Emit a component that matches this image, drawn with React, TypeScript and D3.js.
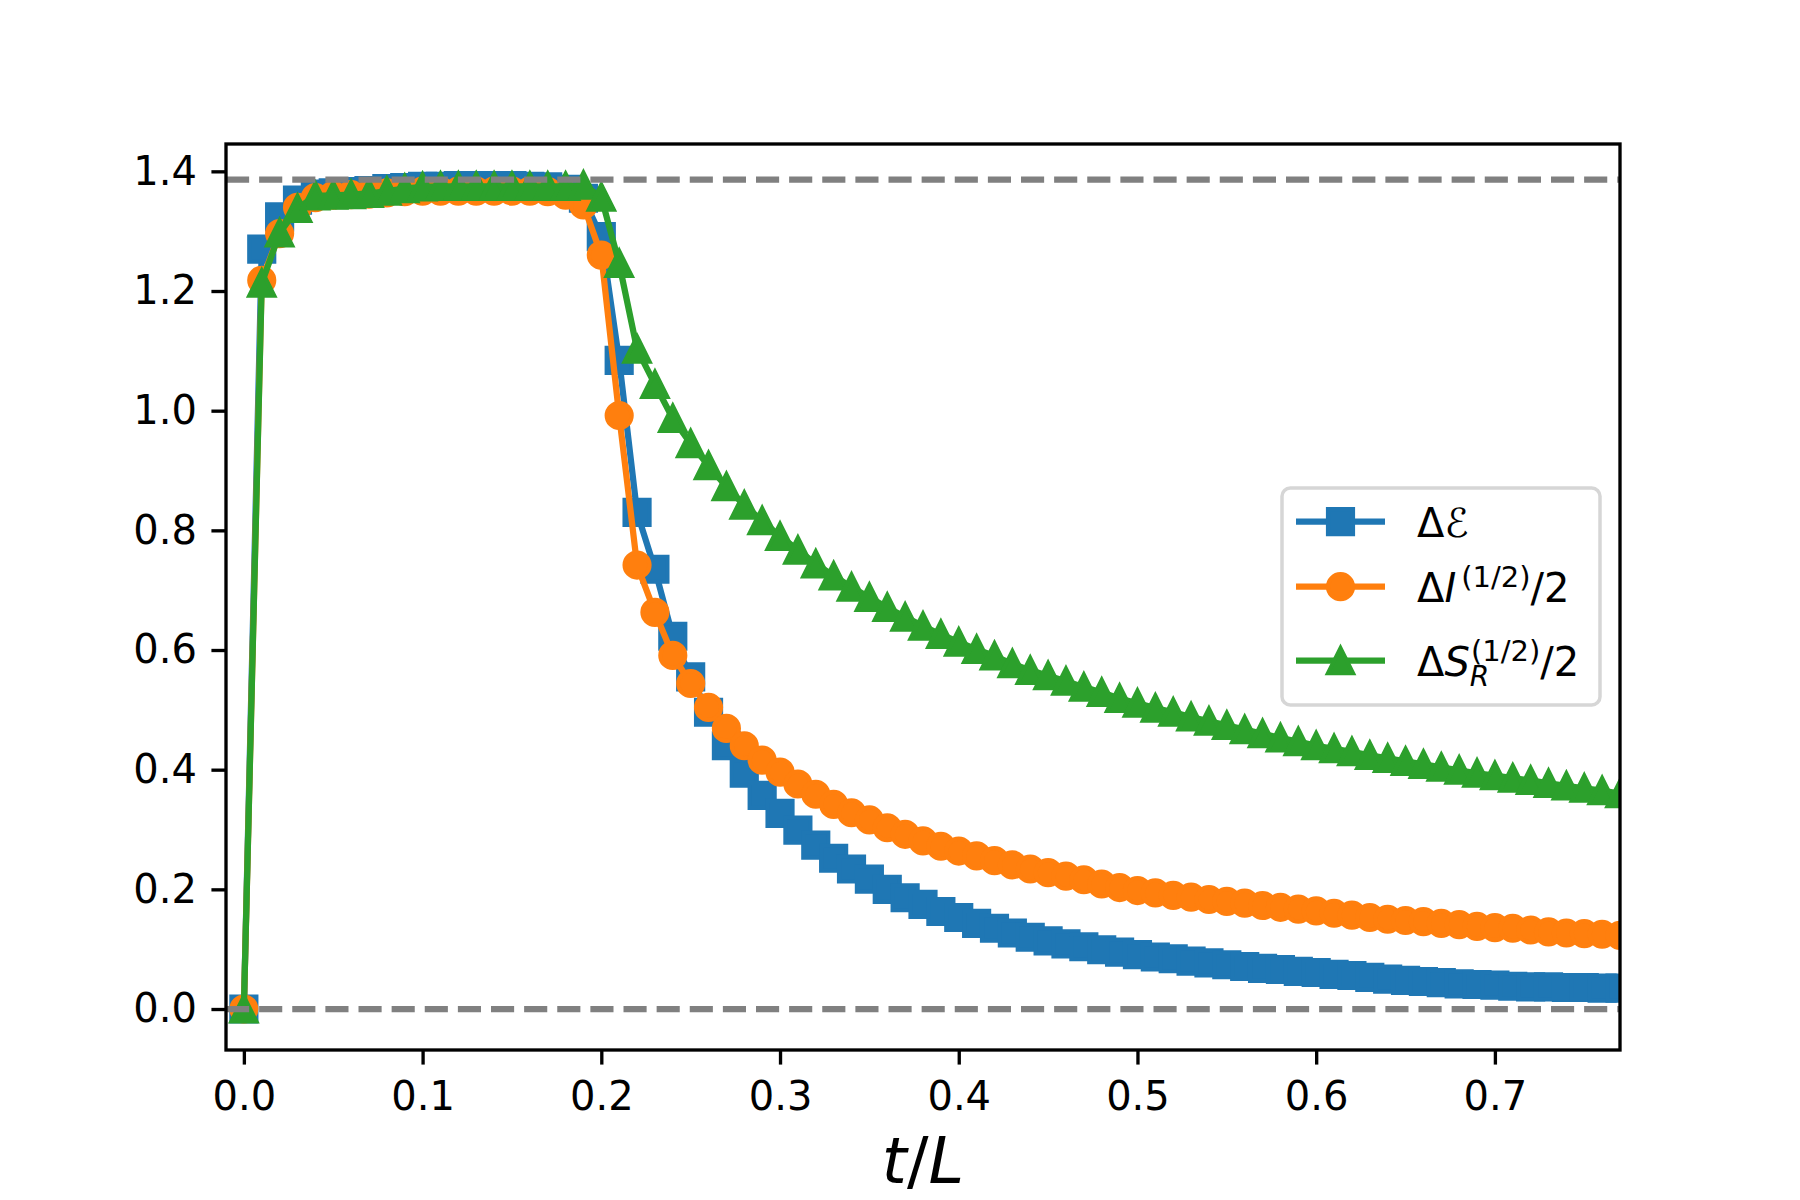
import { useEffect, useRef } from "react"
import * as d3 from "d3"

// sampling step of t/L (one marker per step, starting at t = 0)
const T_STEP = 0.01

// ΔE
const deltaE = [
  0, 1.27, 1.324, 1.352, 1.362, 1.364, 1.366, 1.368, 1.371, 1.373,
  1.375, 1.375, 1.376, 1.376, 1.376, 1.376, 1.375, 1.374, 1.37, 1.355,
  1.291, 1.084, 0.83, 0.735, 0.623, 0.555, 0.496, 0.44, 0.394, 0.357,
  0.327, 0.299, 0.274, 0.252, 0.234, 0.217, 0.2, 0.186, 0.175, 0.163,
  0.153, 0.143, 0.135, 0.127, 0.12, 0.114, 0.109, 0.104, 0.099, 0.095,
  0.091, 0.087, 0.084, 0.08, 0.077, 0.074, 0.071, 0.068, 0.066, 0.063,
  0.061, 0.058, 0.056, 0.053, 0.05, 0.048, 0.046, 0.044, 0.042, 0.041,
  0.04, 0.038, 0.037, 0.037, 0.036, 0.036, 0.035, 0.035,
]

// ΔI^(1/2) / 2
const deltaI = [
  0, 1.218, 1.296, 1.34, 1.356, 1.36, 1.361, 1.362, 1.364, 1.366,
  1.367, 1.367, 1.367, 1.367, 1.367, 1.367, 1.367, 1.366, 1.36, 1.344,
  1.26, 0.992, 0.742, 0.663, 0.591, 0.544, 0.504, 0.469, 0.44, 0.416,
  0.396, 0.376, 0.359, 0.342, 0.328, 0.316, 0.303, 0.292, 0.281, 0.272,
  0.264, 0.256, 0.248, 0.241, 0.234, 0.228, 0.222, 0.216, 0.209, 0.203,
  0.198, 0.194, 0.19, 0.187, 0.183, 0.18, 0.177, 0.173, 0.17, 0.167,
  0.164, 0.16, 0.157, 0.153, 0.15, 0.148, 0.146, 0.143, 0.141, 0.138,
  0.136, 0.135, 0.132, 0.129, 0.127, 0.126, 0.125, 0.123,
]

// ΔS_R^(1/2) / 2
const deltaS = [
  0, 1.213, 1.297, 1.338, 1.359, 1.36, 1.361, 1.363, 1.367, 1.371,
  1.374, 1.375, 1.375, 1.375, 1.375, 1.375, 1.375, 1.375, 1.375, 1.377,
  1.357, 1.246, 1.103, 1.044, 0.987, 0.945, 0.908, 0.873, 0.842, 0.816,
  0.79, 0.767, 0.744, 0.724, 0.705, 0.688, 0.671, 0.655, 0.64, 0.626,
  0.613, 0.601, 0.59, 0.577, 0.566, 0.557, 0.548, 0.538, 0.529, 0.519,
  0.511, 0.503, 0.496, 0.488, 0.481, 0.474, 0.467, 0.46, 0.453, 0.447,
  0.44, 0.435, 0.43, 0.424, 0.419, 0.414, 0.409, 0.404, 0.399, 0.394,
  0.39, 0.386, 0.382, 0.377, 0.373, 0.369, 0.365, 0.36,
]

const xTicks = [0, 0.1, 0.2, 0.3, 0.4, 0.5, 0.6, 0.7]
const yTicks = [0, 0.2, 0.4, 0.6, 0.8, 1.0, 1.2, 1.4]
const refLines = [0, Math.log(4)]

type Marker = "square" | "circle" | "triangle"
type Series = { key: string; values: number[]; color: string; marker: Marker }

const series: Series[] = [
  { key: "E", values: deltaE, color: "#1f77b4", marker: "square" },
  { key: "I", values: deltaI, color: "#ff7f0e", marker: "circle" },
  { key: "S", values: deltaS, color: "#2ca02c", marker: "triangle" },
]

const FONT = "DejaVu Sans, sans-serif"

export default function App() {
  const svgRef = useRef<SVGSVGElement>(null)

  useEffect(() => {
    if (!svgRef.current) return
    const svg = d3.select(svgRef.current)
    svg.selectAll("*").remove()

    const left = 226
    const right = 1620
    const top = 144
    const bottom = 1050
    const pt = 300 / 72 // px per point

    const x = d3.scaleLinear().domain([-0.01, 0.77]).range([left, right])
    const y = d3.scaleLinear().domain([-0.0685, 1.4457]).range([bottom, top])

    svg.append("rect").attr("width", 1800).attr("height", 1200).attr("fill", "#fff")

    svg
      .append("defs")
      .append("clipPath")
      .attr("id", "plot-clip")
      .append("rect")
      .attr("x", left)
      .attr("y", top)
      .attr("width", right - left)
      .attr("height", bottom - top)

    const plot = svg.append("g").attr("clip-path", "url(#plot-clip)")

    const ms = 6 * pt // marker size
    const mew = 1 * pt // marker edge width
    const lw = 1.5 * pt

    const markerPath = (m: Marker, s: number) => {
      const h = s / 2
      if (m === "square") return `M${-h},${-h}H${h}V${h}H${-h}Z`
      if (m === "triangle") return `M0,${-h}L${h},${h}L${-h},${h}Z`
      return d3.arc()({ innerRadius: 0, outerRadius: h, startAngle: 0, endAngle: 2 * Math.PI }) || ""
    }

    const line = d3
      .line<number>()
      .x((_, i) => x(i * T_STEP))
      .y((d) => y(d))

    series.forEach((s) => {
      plot
        .append("path")
        .attr("d", line(s.values))
        .attr("fill", "none")
        .attr("stroke", s.color)
        .attr("stroke-width", lw)
        .attr("stroke-linejoin", "round")

      plot
        .selectAll(`.mk-${s.key}`)
        .data(s.values)
        .enter()
        .append("path")
        .attr("class", `mk-${s.key}`)
        .attr("transform", (d, i) => `translate(${x(i * T_STEP)},${y(d)})`)
        .attr("d", markerPath(s.marker, ms))
        .attr("fill", s.color)
        .attr("stroke", s.color)
        .attr("stroke-width", mew)
        .attr("stroke-linejoin", s.marker === "circle" ? "round" : "miter")
    })

    plot
      .selectAll(".ref")
      .data(refLines)
      .enter()
      .append("line")
      .attr("x1", left)
      .attr("x2", right)
      .attr("y1", (d) => y(d))
      .attr("y2", (d) => y(d))
      .attr("stroke", "#808080")
      .attr("stroke-width", lw)
      .attr("stroke-dasharray", `${3.7 * lw} ${1.6 * lw}`)

    // axes
    const tickLen = 3.5 * pt
    const axisStyle = (g: d3.Selection<SVGGElement, unknown, null, undefined>) => {
      g.select(".domain").remove()
      g.selectAll(".tick line").attr("stroke", "#000").attr("stroke-width", 0.8 * pt)
      g.selectAll(".tick text")
        .attr("fill", "#000")
        .style("font-family", FONT)
        .style("font-size", "40px")
    }

    svg
      .append("g")
      .attr("transform", `translate(0,${bottom})`)
      .call(
        d3
          .axisBottom(x)
          .tickValues(xTicks)
          .tickSize(tickLen)
          .tickPadding(tickLen)
          .tickFormat(d3.format(".1f")),
      )
      .call(axisStyle)
      .selectAll(".tick text")
      .attr("dy", "0.76em")

    svg
      .append("g")
      .attr("transform", `translate(${left},0)`)
      .call(
        d3
          .axisLeft(y)
          .tickValues(yTicks)
          .tickSize(tickLen)
          .tickPadding(tickLen)
          .tickFormat(d3.format(".1f")),
      )
      .call(axisStyle)

    svg
      .append("rect")
      .attr("x", left)
      .attr("y", top)
      .attr("width", right - left)
      .attr("height", bottom - top)
      .attr("fill", "none")
      .attr("stroke", "#000")
      .attr("stroke-width", 0.8 * pt)

    // x label
    const xl = svg
      .append("text")
      .attr("x", (left + right) / 2)
      .attr("y", 1183)
      .attr("text-anchor", "middle")
      .style("font-family", FONT)
      .style("font-size", "64px")
    xl.append("tspan").style("font-style", "italic").text("t")
    xl.append("tspan").text("/")
    xl.append("tspan").style("font-style", "italic").text("L")

    // legend
    const lx = 1282
    const ly = 488
    const lgW = 318
    const lgH = 217
    const lg = svg.append("g")
    lg.append("rect")
      .attr("x", lx)
      .attr("y", ly)
      .attr("width", lgW)
      .attr("height", lgH)
      .attr("rx", 8.3)
      .attr("fill", "rgba(255,255,255,0.8)")
      .attr("stroke", "rgba(204,204,204,0.8)")
      .attr("stroke-width", 3.5)

    const rowY = [521.7, 586.7, 660.7]
    const hx0 = lx + 14
    const hx1 = lx + 103
    const textX = lx + 135

    series.forEach((s, i) => {
      const cy = rowY[i]
      lg.append("line")
        .attr("x1", hx0)
        .attr("x2", hx1)
        .attr("y1", cy)
        .attr("y2", cy)
        .attr("stroke", s.color)
        .attr("stroke-width", lw)
      lg.append("path")
        .attr("transform", `translate(${(hx0 + hx1) / 2},${cy})`)
        .attr("d", markerPath(s.marker, ms))
        .attr("fill", s.color)
        .attr("stroke", s.color)
        .attr("stroke-width", mew)
        .attr("stroke-linejoin", s.marker === "circle" ? "round" : "miter")
    })

    const label = (i: number) =>
      lg
        .append("text")
        .attr("x", textX)
        .attr("y", rowY[i] + 15)
        .style("font-family", FONT)
        .style("font-size", "40px")
        .attr("fill", "#000")

    const t1 = label(0)
    t1.append("tspan").text("Δ")
    t1.append("tspan").style("font-style", "italic").text("ℰ")

    const t2 = label(1)
    t2.append("tspan").text("Δ")
    t2.append("tspan").style("font-style", "italic").text("I")
    t2.append("tspan").attr("dx", 5).attr("dy", -15).style("font-size", "29px").text("(1/2)")
    t2.append("tspan").attr("dy", 15).text("/2")

    const t3 = label(2)
    t3.append("tspan").text("Δ")
    t3.append("tspan").style("font-style", "italic").text("S")
    t3.append("tspan").attr("dy", 10).style("font-size", "28px").style("font-style", "italic").text("R")
    t3.append("tspan").attr("x", textX + 54).attr("dy", -25).style("font-size", "29px").text("(1/2)")
    t3.append("tspan").attr("dy", 15).text("/2")
  }, [])

  return (
    <svg
      ref={svgRef}
      width={1800}
      height={1200}
      viewBox="0 0 1800 1200"
      style={{ position: "absolute", left: 0, top: 0, background: "#fff" }}
    />
  )
}
